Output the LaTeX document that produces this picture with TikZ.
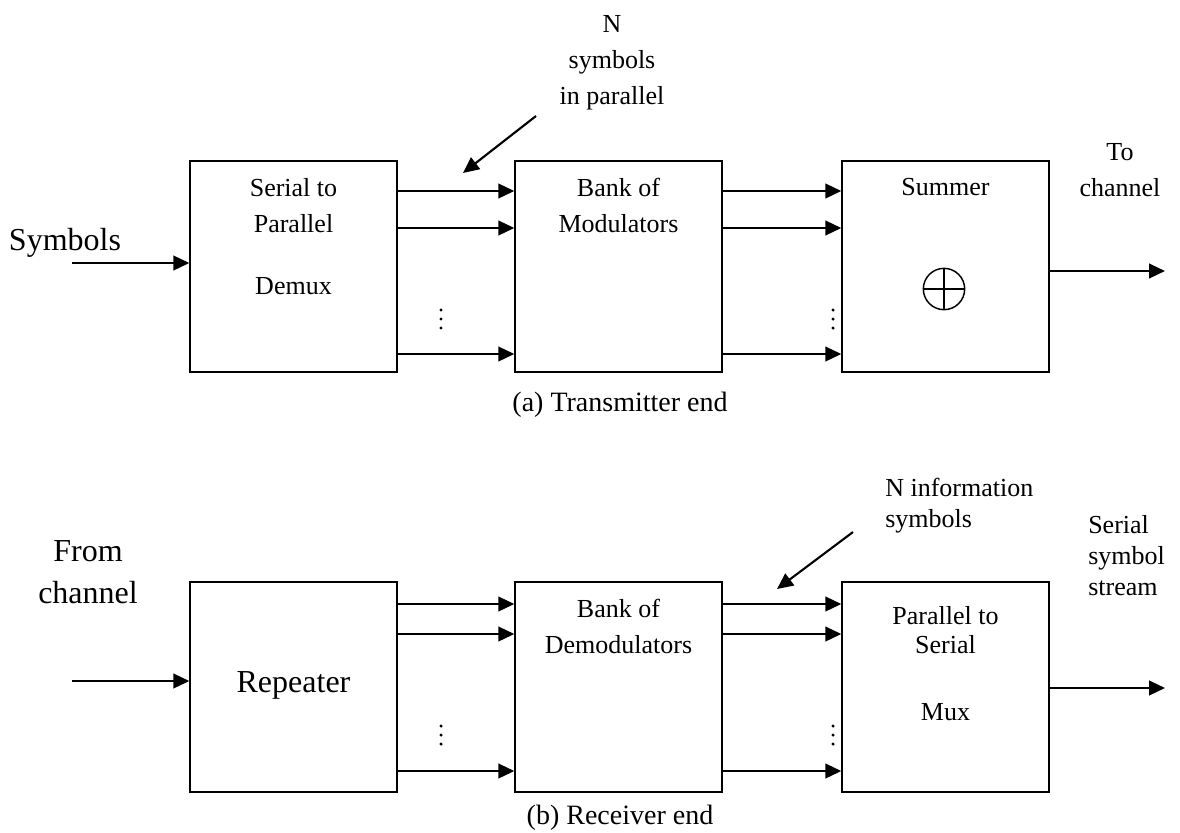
\documentclass[tikz,border=0pt]{standalone}
\usepackage{fontspec}
\setmainfont{Liberation Serif}
\usetikzlibrary{arrows.meta}

\begin{document}
\begin{tikzpicture}[x=0.75pt, y=-0.75pt,
    blk/.style={draw, line width=1.3pt, minimum width=155pt, minimum height=158pt, inner sep=0pt},
    sig/.style={line width=1.6pt, -{Triangle[length=12pt, width=11pt]}},
    txt/.style={font=\fontsize{19.5}{27}\selectfont, align=center, inner sep=0pt, anchor=north},
    big/.style={font=\fontsize{24}{31.5}\selectfont, align=center, inner sep=0pt},
    capt/.style={font=\fontsize{21}{25}\selectfont, inner sep=0pt, anchor=base},
    dot/.style={fill, circle, inner sep=0pt, minimum size=2.6pt}]
    \useasboundingbox (0,0) rectangle (1180,832);

    % (a) transmitter
    \node[blk] (s2p) at (293.5,266.5) {};
    \node[blk] (mod) at (618.5,266.5) {};
    \node[blk] (sum) at (945.5,266.5) {};

    \node[txt] (s2ptxt) at (293.5,178) {Serial to\\Parallel\\[20pt]Demux};
    \node[txt] (modtxt) at (618.5,178) {Bank of\\Modulators};
    \node[txt] (sumtxt) at (945.5,178) {Summer};
    \node[circle, draw, line width=1.1pt, minimum size=31pt, inner sep=0pt] (plus) at (944,289) {};
    \draw[line width=1.1pt] (plus.north) -- (plus.south) (plus.west) -- (plus.east);

    \node[big, anchor=base] (symlbl) at (65,250) {Symbols};
    \coordinate (src) at (72,263);
    \draw[sig] (src) -- (src -| s2p.west);

    \foreach \y in {191,228,354} {
        \draw[sig] (s2p.east |- 0,\y) -- (mod.west |- 0,\y);
        \draw[sig] (mod.east |- 0,\y) -- (sum.west |- 0,\y);
    }
    % vertical dots
    \foreach \x in {441,833}
        \foreach \y in {310,319,328}
            \node[dot] at (\x,\y) {};

    \coordinate (sink) at (1165,271);
    \draw[sig] (sum.east |- sink) -- (sink);
    \node[txt] (tolbl) at (1120,143) {To\\channel};

    \node[txt] (nlbl) at (612,15) {N\\symbols\\in parallel};
    \coordinate (ptrA) at (536,116);
    \coordinate (ptrB) at (463,173);
    \draw[sig] (ptrA) -- (ptrB);

    \node[capt] (capa) at (620,411) {(a) Transmitter end};

    % (b) receiver
    \node[blk] (rep) at (293.5,687) {};
    \node[blk] (demod) at (618.5,687) {};
    \node[blk] (p2s) at (945.5,687) {};

    \node[big, anchor=base] (reptxt) at (293.5,692) {Repeater};
    \node[txt] (demodtxt) at (618.5,599) {Bank of\\Demodulators};
    \node[txt, font=\fontsize{19.5}{22}\selectfont] (p2stxt) at (945.5,606) {Parallel to\\Serial\\[28pt]Mux};

    \node[big, anchor=north] (fromlbl) at (88,540) {From\\channel};
    \coordinate (rx) at (72,681);
    \draw[sig] (rx) -- (rx -| rep.west);

    \foreach \y in {604,634,771} {
        \draw[sig] (rep.east |- 0,\y) -- (demod.west |- 0,\y);
        \draw[sig] (demod.east |- 0,\y) -- (p2s.west |- 0,\y);
    }
    \foreach \x in {441,833}
        \foreach \y in {726,735,744}
            \node[dot] at (\x,\y) {};

    \node[txt, anchor=north west, align=left, font=\fontsize{19.5}{23.5}\selectfont] (ninfo) at (885,478) {N information\\symbols};
    \coordinate (ptrC) at (853,532);
    \coordinate (ptrD) at (777,589);
    \draw[sig] (ptrC) -- (ptrD);

    \coordinate (sink2) at (1165,688);
    \draw[sig] (p2s.east |- sink2) -- (sink2);
    \node[txt, anchor=north west, align=left, font=\fontsize{19.5}{23.5}\selectfont] (serlbl) at (1088,515) {Serial\\symbol\\stream};

    \node[capt] (capb) at (620,824) {(b) Receiver end};
\end{tikzpicture}
\end{document}
